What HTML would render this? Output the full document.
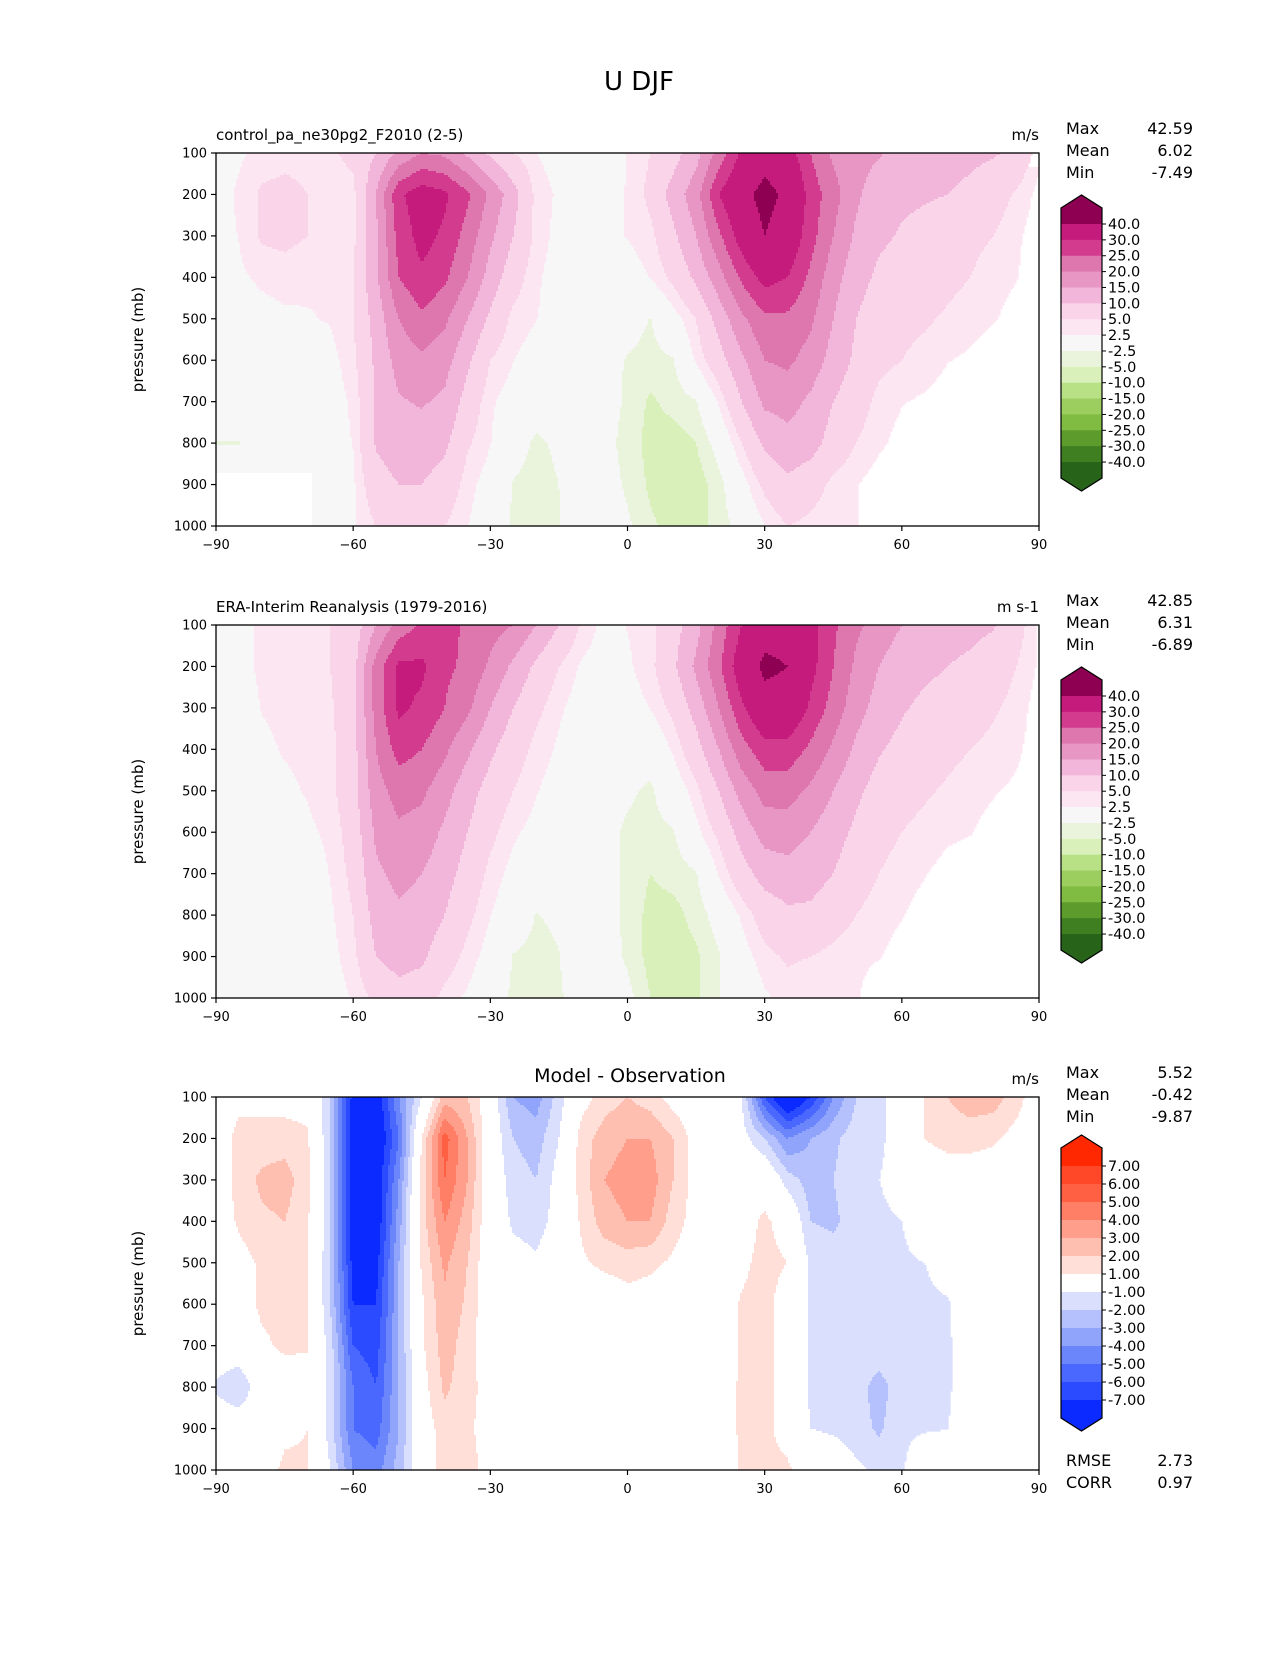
<!DOCTYPE html>
<html><head><meta charset="utf-8"><title>U DJF</title>
<style>
html,body{margin:0;padding:0;background:#fff;}
svg text{font-family:"DejaVu Sans","Liberation Sans",sans-serif;fill:#000;}
</style></head>
<body>
<svg id="fig" xmlns="http://www.w3.org/2000/svg" width="1275" height="1650" viewBox="0 0 1275 1650">
<rect x="0" y="0" width="1275" height="1650" fill="#fff"/>
<text x="639" y="90" font-size="26" text-anchor="middle">U DJF</text>
<g id="panels"></g>
</svg>
<script>
// ---------- data (lat -90..90 step 5; pressure 100..1000 step 100) ----------
const latGrid = [-90,-85,-80,-75,-70,-65,-60,-55,-50,-45,-40,-35,-30,-25,-20,-15,-10,-5,0,5,10,15,20,25,30,35,40,45,50,55,60,65,70,75,80,85,90];
const presGrid = [100,200,300,400,500,600,700,800,900,1000];
const xTicks = [-90,-60,-30,0,30,60,90];
const yTicks = [100,200,300,400,500,600,700,800,900,1000];

const modelU = [
 [1,2,3.5,4,4,4.5,6,10,16,20,19,14,9,5,2.6,1,-1,0.5,2.6, 5,8,13,22,31,36,33,25,19,17,15.5,13,12,11.5,11,10.5,9,3],
 [1,3,5.5,6,5,3,4,15,29,33,31,26,19,12,4,2,1,2,2.6, 6,12,18,30,37,43,38,28,22,16,12,11,10.5,10,9,7,4.5,1.5],
 [1,2.6,5.5,6,5,3,4,14,27,32,29,23,16,10,4,1.5,0.5,2,2.6, 4,9,15,24,33,40,35,27,20,14,11,9.5,8.5,7.5,6,5,3,1],
 [0.5,2,3,3.5,3,3,5,14,25,29,26,20,13,7,3,1,0,1.5,1, 2.6,6,11,18,26,32,30,24,17,12,9,7.5,7,6,5,3.5,2.6,1],
 [0.5,1,1.5,2,2.3,2.7,5,12,20,24,21,15,9,4,2.6,1,0,-1,-1, -2.6,1,5,12,19,24,24,21,15,10,7,6,5.5,4.5,3.5,2.7,1.5,0],
 [0,0,0.5,0.5,1,1.5,4,11,17,19,17,11,5,2.6,1,0,0,-1.5,-2.7, -3.5,-2.7,3,8,14,20,21,18,13,9,6,5,4,2.6,2,1,0.5,0],
 [-0.5,0,0.5,0.5,0.5,1,3,10.5,14.5,15.5,14,8,3,1,-1,-0.5,0,-1,-3, -5.5,-4,-2.7,3,10,16,17,14,10,7,4,2.6,2,1,0.5,0,0,0],
 [-2.6,-2.6,0,0,0,1,2.6,10.5,12.5,12.5,11,5.5,2.6,-1,-3,-2,0,-1.5,-3.5, -6,-6.5,-5,-1,5,11,13,12,8,5,3,1.5,0.5,0,0,0,0,0],
 [0,0,0,0,0,0.5,2,8,10,10,8,3.5,1,-2.7,-3.5,-2.5,0,-1,-3, -5.5,-7,-6.5,-3.5,1,6,9,7,4,2.6,1,0.5,0,0,0,0,0,0],
 [0,0,0,0,0,0.5,2,5,7,7,5,2.6,0,-3,-3.5,-2.6,-1,0,-2, -4.5,-6,-6,-4,-1,2.3,5,4,3,2.6,1,0,0,0,0,0,0,0]
];
const obsU = [
 [0.5,1.5,3,3.5,4,5,7,15,22,26,27,24,22,20,15,10,4.5,1.5,2.6, 4,8,13,22,30,36,36,32,26,21,18,15,13,12,11.5,10.5,7,2],
 [0.5,1.5,3,3.5,4,5,8,22,31,31,26,24,19,14,9,5,2,1,2, 4,9,16,24,34,42,40,32,25,19,15,12,11,10,9,7,5,2],
 [0,1,2.6,3,3.5,4.5,8,22,31,29,25,21,15,10,6,3,1,0.5,1, 2.6,6,12,20,29,36,36,29,23,17,13,10.5,9,8,7,5.5,4,1],
 [0,0.5,2,2.7,3,4,8,20,27,25,21,16,11,7,4,2,0.5,-0.5,-1, -1,3,8,15,23,28,28,24,19,14,10.5,8.5,7,6,5,4,3,1],
 [0,0,1,2,2.7,4,8,18,22,21,17,12,8,5,2.7,1,0,-1,-2, -3,0,4,10,17,22,22,19,15,11,8,6.5,5.5,4.5,3.5,2.7,2,0.5],
 [0,0,0.5,1,2,3,7,16,19,18,14,10,6,3,1.5,0,0,-1.5,-3, -3.5,-2.7,1.5,6,12,17,17.5,15,12,9,6.5,5,4,3,2.6,1.5,0.5,0],
 [0,0,0,0.5,1,2.6,6,14,16.5,15,12,8,4,1.5,0,-0.5,0,-1.5,-3, -5,-4,-2.7,2.7,8,12,13,12,10,7,5,3.5,2.6,1.5,1,0,0,0],
 [0,0,0,-1,1,2,5,12,14,13,10,6,2.6,0,-2.6,-2,0,-1.5,-3, -6,-6,-4,-1,3,7,9,9,7,5,3.5,2.6,1.5,0.5,0,0,0,0],
 [0,0,0,-1,0.5,1.5,4,10,12,11,7,4,1,-2.7,-3.5,-2.6,0,-1,-3, -6,-6.5,-5.5,-2.7,1,4,5.5,5,4,3,2.6,1.5,0.5,0,0,0,0,0],
 [0,0,0,0,0,1,2.7,6,8,7,4,2,-1,-3,-3.5,-3,-0.5,0,-1.5, -5,-6,-5.5,-2.6,-1,2,3.5,3,3,2.7,1,0.5,0,0,0,0,0,0]
];
const diffU = [
 [0,0.5,0.5,0.5,0.5,-2,-7.5,-8,-4,-1,2.5,2,0,-3,-3.5,-1.5,0.5,1.5,2, 1.5,0.5,0,0,-1,-6,-9,-7,-4,-2,-1.5,0,1,2,2.5,2.5,1.5,0],
 [0,1.5,1.5,1.5,1.2,-2,-8,-8.5,-5,1,5.5,3,0,-2,-2.5,-1,1.5,2.5,3, 3,2,0.5,0,-0.5,-2,-4,-3,-2.2,-1.5,-1.2,-0.5,1,1.5,1.5,1.2,0.5,0],
 [0,1.5,2.2,2.5,1.3,-2,-8,-8,-4,1.5,5,3,0,-1.5,-2,-0.5,1.5,3,3.5, 3.5,2,0.5,0,0,0.5,-1.5,-2.5,-2,-1.5,-1,-0.5,0,0,0,0,0,0],
 [0,1.2,1.8,2,1.2,-2,-8,-8,-3.5,1.5,4,2.5,0,-1.2,-1.5,-0.5,1.2,2.5,3, 3,1.5,0.5,0.5,0.5,1.2,0.5,-2,-2.2,-1.5,-1.2,-1,-0.5,0,0,0,0,0],
 [0,0.5,1.2,1.3,1.1,-2,-7.5,-7.5,-3,1.2,3.2,2,0,-0.5,-0.8,0,0.8,1.3,1.5, 1.3,0.8,0.3,0.5,0.8,1.3,1,-1.2,-1.5,-1.2,-1.2,-1.1,-1,-0.5,0,0,0,0],
 [0,0.5,1.2,1.3,1.1,-2,-7,-7,-3,0.8,2.8,1.8,0,0,0,0,0,0,0.5, 0.3,0,0,0.5,1.1,1.3,0.5,-1.2,-1.3,-1.2,-1.2,-1.2,-1.2,-1.1,0,0,0,0],
 [0,0,0.8,1.2,1.1,-1.5,-6,-6.5,-3,0.8,2.5,1.5,0,0,0,0,0,0,0, 0,0,0,0.3,1.1,1.3,0.5,-1.2,-1.2,-1.2,-1.2,-1.2,-1.2,-1.2,0,0,0,0],
 [-1.2,-2,0,0.3,0.5,-1.3,-5,-6,-3,0.5,2.2,1.4,0.5,0,0,0,0,0,0, 0,0,0,0.3,1.2,1.3,0.5,-1.2,-1.3,-1.5,-2.5,-1.3,-1.2,-1.2,0,0,0,0],
 [0,0,0,0.8,1,-1.5,-5,-5.5,-3,0.3,1.5,1.3,0.3,0,0,0,0,0,0, 0,0,0,0.3,1.2,1.3,0.5,-1,-1.2,-1.5,-2.2,-1.2,-1.1,-1,0,0,0,0],
 [0,0,0.5,1.2,1.1,-1,-4,-4.5,-2.5,0,1.5,1.5,0.5,0,0,0,0,0,0, 0,0,0,0.3,1.1,1.3,1.2,0.3,0,-0.8,-1.2,-1.1,0,0,0,0,0,0]
];

const fieldLevels = [-40,-30,-25,-20,-15,-10,-5,-2.5,2.5,5,10,15,20,25,30,40];
const fieldLabels = ["40.0","30.0","25.0","20.0","15.0","10.0","5.0","2.5","-2.5","-5.0","-10.0","-15.0","-20.0","-25.0","-30.0","-40.0"];
const fieldColors = ["#276419","#3f7f22","#5c9b2c","#7fbc41","#9bcd5f","#b8e186","#d9f0bb","#eaf4dd","#f7f7f7","#fce6f1","#fad4e9","#f1b6da","#e897c4","#de77ae","#d33c8e","#c51b7d","#8e0152"];
const diffLevels = [-7,-6,-5,-4,-3,-2,-1,1,2,3,4,5,6,7];
const diffLabels = ["7.00","6.00","5.00","4.00","3.00","2.00","1.00","-1.00","-2.00","-3.00","-4.00","-5.00","-6.00","-7.00"];
const diffColors = ["#0a2aff","#2a4bff","#4a68fd","#6b85fb","#90a4fb","#b5c1fc","#dadffd","#ffffff","#ffdfd8","#ffbfb0","#ff9e8a","#ff7f66","#ff5f43","#ff4828","#ff2800"];

const stats1 = ["42.59","6.02","-7.49"];
const stats2 = ["42.85","6.31","-6.89"];
const stats3 = ["5.52","-0.42","-9.87"];
const rmseCorr = ["2.73","0.97"];

// ---------- layout ----------
const NS = "http://www.w3.org/2000/svg";
const X0 = 216, W = 823, H = 373;
const panelTops = [153, 625, 1097];
const root = document.getElementById('panels');

function mk(tag, attrs, parent){
  const e = document.createElementNS(NS, tag);
  for (const k in attrs) e.setAttribute(k, attrs[k]);
  parent.appendChild(e);
  return e;
}
function xScale(lat){ return X0 + (lat + 90) / 180 * W; }
function yScale(p, y0){ return y0 + (p - 100) / 900 * H; }
function sample(data, lat, p){
  let fi = (lat + 90) / 5; let i = Math.max(0, Math.min(35, Math.floor(fi))); let fx = Math.max(0, Math.min(1, fi - i));
  let fj = (p - 100) / 100; let j = Math.max(0, Math.min(8, Math.floor(fj))); let fy = Math.max(0, Math.min(1, fj - j));
  const a = data[j][i], b = data[j][i+1], c = data[j+1][i], d = data[j+1][i+1];
  return (a*(1-fx)+b*fx)*(1-fy) + (c*(1-fx)+d*fx)*fy;
}
function colorFor(v, levels, colors){
  let k = 0;
  while (k < levels.length && v >= levels[k]) k++;
  return colors[k];
}

function drawPanel(idx, data, levels, colors, maskFn){
  const y0 = panelTops[idx];
  const g = mk('g', {}, root);
  
  
  const step = 2;
  for (let py = 0; py < H; py += step) {
    const p = 100 + (py + step/2) / H * 900;
    let runStart = 0, runColor = null;
    for (let px = 0; px <= W; px += step) {
      let col = null;
      if (px < W) {
        const lat = (px + step/2) / W * 180 - 90;
        col = (maskFn && maskFn(lat, p)) ? '#ffffff' : colorFor(sample(data, lat, p), levels, colors);
      }
      if (col !== runColor) {
        if (runColor !== null) {
          const r = mk('rect', {x: X0 + runStart, y: y0 + py, width: Math.min(px, W) - runStart + 0.6, height: Math.min(step, H - py) + 0.6, fill: runColor}, g);
          
          
        }
        runStart = px; runColor = col;
      }
    }
  }
  const f = mk('rect', {x: X0, y: y0, width: W, height: H, fill: 'none', stroke: '#000', 'stroke-width': 1.3}, root);
  
  
  yTicks.forEach(t => {
    const y = yScale(t, y0);
    const l = mk('line', {x1: X0 - 5, x2: X0, y1: y, y2: y, stroke: '#000', 'stroke-width': 1.2}, root);
    
    
    const tx = mk('text', {x: X0 - 9, y: y + 4.5, 'font-size': 13, 'text-anchor': 'end'}, root);
    tx.textContent = t;
    
    
  });
  xTicks.forEach(t => {
    const x = xScale(t);
    const l = mk('line', {x1: x, x2: x, y1: y0 + H, y2: y0 + H + 5, stroke: '#000', 'stroke-width': 1.2}, root);
    
    
    const tx = mk('text', {x: x, y: y0 + H + 23, 'font-size': 13, 'text-anchor': 'middle'}, root);
    tx.textContent = t < 0 ? '\u2212' + Math.abs(t) : t;
    
    
  });
  const yl = mk('text', {x: 0, y: 0, 'font-size': 15, 'text-anchor': 'middle', transform: 'translate(143,' + (y0 + H/2) + ') rotate(-90)'}, root);
  yl.textContent = 'pressure (mb)';
  
  
}

function drawColorbar(topTip, extH, bandH, levels, labels, colors, name){
  const g = mk('g', {}, root);
  
  
  const x1 = 1061, x2 = 1102, xm = (x1 + x2) / 2;
  const top = topTip + 13 + extH;
  const n = levels.length - 1;
  const bottom = top + n * bandH;
  const upper = mk('polygon', {points: `${x1},${top} ${x1},${topTip+13} ${xm},${topTip} ${x2},${topTip+13} ${x2},${top}`, fill: colors[colors.length-1]}, g);
  
  
  for (let i = 0; i < n; i++) {
    const r = mk('rect', {x: x1, y: top + i * bandH, width: x2 - x1, height: bandH + 0.5, fill: colors[colors.length - 2 - i]}, g);
    
    
  }
  const lower = mk('polygon', {points: `${x1},${bottom} ${x1},${bottom+extH} ${xm},${bottom+extH+13} ${x2},${bottom+extH} ${x2},${bottom}`, fill: colors[0]}, g);
  
  
  const outline = mk('polygon', {points: `${x1},${topTip+13} ${xm},${topTip} ${x2},${topTip+13} ${x2},${bottom+extH} ${xm},${bottom+extH+13} ${x1},${bottom+extH}`, fill: 'none', stroke: '#000', 'stroke-width': 1.2}, g);
  
  
  labels.forEach((lab, i) => {
    const y = top + i * bandH;
    const l = mk('line', {x1: x2, x2: x2 + 4, y1: y, y2: y, stroke: '#000', 'stroke-width': 1}, g);
    
    
    const t = mk('text', {x: x2 + 6, y: y + 5, 'font-size': 14.5}, g);
    t.textContent = lab;
    
    
  });
}

function drawStats(y, vals, names){
  names.forEach((nm, i) => {
    const a = mk('text', {x: 1066, y: y + i * 22, 'font-size': 16}, root);
    a.textContent = nm;
    
    
    const b = mk('text', {x: 1193, y: y + i * 22, 'font-size': 16, 'text-anchor': 'end'}, root);
    b.textContent = vals[i];
    
    
  });
}
function label(x, y, txt, size, anchor, name){
  const t = mk('text', {x: x, y: y, 'font-size': size, 'text-anchor': anchor}, root);
  t.textContent = txt;
  
  
}

const antarcticMask = (lat, p) => lat < -69 && p > 870;
drawPanel(0, modelU, fieldLevels, fieldColors, antarcticMask);
drawPanel(1, obsU, fieldLevels, fieldColors, null);
drawPanel(2, diffU, diffLevels, diffColors, null);

drawColorbar(195, 16, 15.87, fieldLevels, fieldLabels, fieldColors, 'colorbar-1');
drawColorbar(667, 16, 15.87, fieldLevels, fieldLabels, fieldColors, 'colorbar-2');
drawColorbar(1135, 18, 18, diffLevels, diffLabels, diffColors, 'colorbar-3');

label(216, 140, 'control_pa_ne30pg2_F2010 (2-5)', 15, 'start', 'panel-1-title');
label(1039, 140, 'm/s', 15, 'end', 'panel-1-units');
label(216, 612, 'ERA-Interim Reanalysis (1979-2016)', 15, 'start', 'panel-2-title');
label(1039, 612, 'm s-1', 15, 'end', 'panel-2-units');
label(630, 1082, 'Model - Observation', 19, 'middle', 'panel-3-title');
label(1039, 1084, 'm/s', 15, 'end', 'panel-3-units');

drawStats(134, stats1, ['Max','Mean','Min']);
drawStats(606, stats2, ['Max','Mean','Min']);
drawStats(1078, stats3, ['Max','Mean','Min']);
drawStats(1466, rmseCorr, ['RMSE','CORR']);
</script>
</body></html>
